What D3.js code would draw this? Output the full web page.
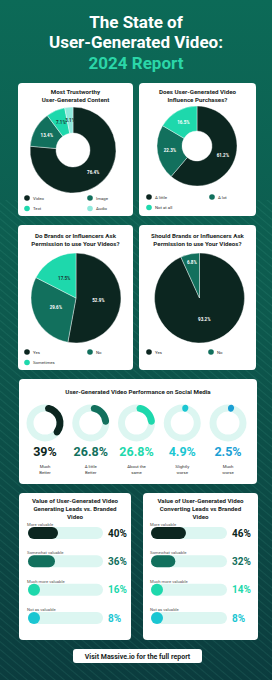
<!DOCTYPE html>
<html>
<head>
<meta charset="utf-8">
<script src="https://cdn.jsdelivr.net/npm/d3@7"></script>
<style>
  html, body { margin: 0; padding: 0; background: #0b5a4e; }
  svg { display: block; font-family: Roboto, "Noto Sans", sans-serif; }
</style>
</head>
<body>
<div id="chart"></div>
<script>
// ---- data ----
const trustLabels = ['Video', 'Image', 'Text', 'Audio'];
const trustValues = [76.4, 13.4, 7.1, 3.1];

const influenceLabels = ['A little', 'A lot', 'Not at all'];
const influenceValues = [61.2, 22.3, 16.5];

const askLabels = ['Yes', 'No', 'Sometimes'];
const askValues = [52.9, 29.6, 17.5];

const shouldLabels = ['Yes', 'No'];
const shouldValues = [93.2, 6.8];

const perfLabels = [['Much', 'Better'], ['A little', 'Better'], ['About the', 'same'], ['Slightly', 'worse'], ['Much', 'worse']];
const perfValues = [39, 26.8, 26.8, 4.9, 2.5];
const perfText = ['39%', '26.8%', '26.8%', '4.9%', '2.5%'];

const leadLabels = ['More valuable', 'Somewhat valuable', 'Much more valuable', 'Not as valuable'];
const leadValues = [40, 36, 16, 8];
const convLabels = ['More valuable', 'Somewhat valuable', 'Much more valuable', 'Not as valuable'];
const convValues = [46, 32, 14, 8];

const palette = ['#0c2620', '#12705d', '#1ed8ac', '#8fe9dc'];
const ringColors = ['#0c2620', '#12705d', '#1ed8ac', '#1bc6d2', '#1b9fd4'];

const W = 272, H = 680;

const svg = d3.select('#chart').append('svg')
    .attr('width', W)
    .attr('height', H);

// background
const defs = svg.append('defs');
const grad = defs.append('linearGradient')
    .attr('id', 'bg').attr('x1', 0).attr('y1', 0).attr('x2', 0).attr('y2', 1);
grad.append('stop').attr('offset', '0%').attr('stop-color', '#0c6a57');
grad.append('stop').attr('offset', '45%').attr('stop-color', '#0d5a4e');
grad.append('stop').attr('offset', '100%').attr('stop-color', '#0b3c3e');

const pat = defs.append('pattern')
    .attr('id', 'stripes')
    .attr('width', 6).attr('height', 6)
    .attr('patternUnits', 'userSpaceOnUse')
    .attr('patternTransform', 'rotate(-50)');
pat.append('line')
    .attr('x1', 0).attr('y1', 0).attr('x2', 0).attr('y2', 6)
    .attr('stroke', '#6fd6c0').attr('stroke-width', 0.8).attr('stroke-opacity', 0.25);

svg.append('rect').attr('width', W).attr('height', H).attr('fill', 'url(#bg)');
svg.append('rect').attr('y', 200).attr('width', W).attr('height', H - 200).attr('fill', 'url(#stripes)');

// title
const title = svg.append('g').attr('text-anchor', 'middle').attr('font-weight', 700).attr('font-size', 17);
title.append('text').attr('x', W / 2).attr('y', 28).attr('fill', '#fff').text('The State of');
title.append('text').attr('x', W / 2).attr('y', 48).attr('fill', '#fff').text('User-Generated Video:');
title.append('text').attr('x', W / 2).attr('y', 69).attr('fill', '#2bd6a8').text('2024 Report');

// helpers
function card(x, y, w, h) {
    const g = svg.append('g').attr('transform', `translate(${x},${y})`);
    g.append('rect').attr('width', w).attr('height', h).attr('rx', 4).attr('fill', '#fff');
    return g;
}

function cardTitle(g, lines, cx, y0, size, lh) {
    g.append('text')
        .attr('text-anchor', 'middle')
        .attr('font-size', size)
        .attr('font-weight', 700)
        .attr('fill', '#1b1f1e')
        .selectAll('tspan')
        .data(lines)
        .join('tspan')
        .attr('x', cx)
        .attr('y', (d, i) => y0 + i * lh)
        .text(d => d);
}

function legend(g, labels, x0, x1, y0, colors) {
    const item = g.selectAll('g.leg')
        .data(labels)
        .join('g')
        .attr('class', 'leg')
        .attr('transform', (d, i) => `translate(${i % 2 === 0 ? x0 : x1},${y0 + Math.floor(i / 2) * 10.5})`);
    item.append('circle').attr('r', 2.8).attr('fill', (d, i) => colors[i]);
    item.append('text')
        .attr('x', 6).attr('y', 1.6)
        .attr('font-size', 4.3)
        .attr('fill', '#333')
        .text(d => d);
}

function pieChart(g, values, cx, cy, rOut, rIn, colors, textColors) {
    const pie = d3.pie().sort(null).value(d => d);
    const arcs = pie(values);
    const arc = d3.arc().innerRadius(rIn).outerRadius(rOut);
    const pg = g.append('g').attr('transform', `translate(${cx},${cy})`);
    pg.selectAll('path')
        .data(arcs)
        .join('path')
        .attr('d', arc)
        .attr('fill', (d, i) => colors[i])
        .attr('stroke', '#fff')
        .attr('stroke-width', 0.4);
    pg.selectAll('text')
        .data(arcs)
        .join('text')
        .attr('transform', d => {
            let lr;
            if (rIn > 0) lr = (rIn + rOut) / 2;
            else lr = d.data < 10 ? rOut * 0.8 : rOut * 0.5;
            const a = (d.startAngle + d.endAngle) / 2;
            return `translate(${Math.sin(a) * lr},${-Math.cos(a) * lr + 1.5})`;
        })
        .attr('text-anchor', 'middle')
        .attr('font-size', 4.5)
        .attr('font-weight', 700)
        .attr('fill', (d, i) => textColors[i])
        .text(d => d.data + '%');
}

// card 1: most trustworthy
const c1 = card(18, 83, 115, 133);
cardTitle(c1, ['Most Trustworthy', 'User-Generated Content'], 57.5, 11, 6.2, 7.5);
pieChart(c1, trustValues, 55, 67, 43, 17, palette, ['#fff', '#fff', '#1b3a33', '#1b3a33']);
legend(c1, trustLabels, 9, 72, 115, palette);

// card 2: influence purchases
const c2 = card(139, 83, 117, 133);
cardTitle(c2, ['Does User-Generated Video', 'Influence Purchases?'], 58.5, 11, 6.2, 7.5);
pieChart(c2, influenceValues, 58, 63, 40, 15, palette, ['#fff', '#fff', '#fff']);
legend(c2, influenceLabels, 10, 73, 114, palette);

// card 3: do brands ask
const c3 = card(18, 225, 115, 145);
cardTitle(c3, ['Do Brands or Influencers Ask', 'Permission to use Your Videos?'], 57.5, 13, 6.2, 8);
pieChart(c3, askValues, 58, 73, 45, 0, palette, ['#fff', '#fff', '#1b3a33']);
legend(c3, askLabels, 9, 72, 127, palette);

// card 4: should brands ask
const c4 = card(139, 225, 117, 145);
cardTitle(c4, ['Should Brands or Influencers Ask', 'Permission to use Your Videos?'], 58.5, 13, 6.2, 8);
pieChart(c4, shouldValues, 60.5, 73, 45, 0, palette, ['#fff', '#fff']);
legend(c4, shouldLabels, 10, 72, 127, palette);

// card 5: performance rings
const c5 = card(19, 379, 238, 105);
cardTitle(c5, ['User-Generated Video Performance on Social Media'], 119, 15, 6.2, 8);
const ringX = d3.scalePoint().domain(d3.range(perfValues.length)).range([26, 209]);
const ringArc = d3.arc().innerRadius(11.5).outerRadius(18.5).cornerRadius(3.5).startAngle(0);
const ringTrack = d3.arc().innerRadius(11.5).outerRadius(18.5).startAngle(0).endAngle(2 * Math.PI);
const ang = d3.scaleLinear().domain([0, 100]).range([0, 2 * Math.PI]);
const rings = c5.selectAll('g.ring')
    .data(perfValues)
    .join('g')
    .attr('class', 'ring')
    .attr('transform', (d, i) => `translate(${ringX(i)},44)`);
rings.append('path').attr('d', ringTrack()).attr('fill', '#dcf6f1');
rings.append('path')
    .attr('d', d => ringArc({ endAngle: Math.max(ang(d), 0.4) }))
    .attr('fill', (d, i) => ringColors[i]);
rings.append('text')
    .attr('y', 77 - 44)
    .attr('text-anchor', 'middle')
    .attr('font-size', 12.5)
    .attr('font-weight', 700)
    .attr('fill', (d, i) => ringColors[i])
    .text((d, i) => perfText[i]);
rings.append('text')
    .attr('text-anchor', 'middle')
    .attr('font-size', 4.3)
    .attr('fill', '#333')
    .selectAll('tspan')
    .data((d, i) => perfLabels[i])
    .join('tspan')
    .attr('x', 0)
    .attr('y', (d, j) => 89 - 44 + j * 5.5)
    .text(d => d);

// bar cards
function barCard(x, y, w, lines, labels, values, trackX, trackW) {
    const g = card(x, y, w, 147);
    cardTitle(g, lines, w / 2, 10, 6.2, 8);
    const xs = d3.scaleLinear().domain([0, 100]).range([0, trackW]);
    const rowY = d3.scaleLinear().domain([0, 3]).range([40, 125]);
    const row = g.selectAll('g.row')
        .data(values)
        .join('g')
        .attr('class', 'row')
        .attr('transform', (d, i) => `translate(${trackX},${rowY(i)})`);
    row.append('text')
        .attr('x', -1).attr('y', -7)
        .attr('font-size', 4.2)
        .attr('fill', '#555')
        .text((d, i) => labels[i]);
    row.append('rect')
        .attr('y', -6).attr('width', trackW).attr('height', 12).attr('rx', 6)
        .attr('fill', '#dcf6f1');
    row.append('rect')
        .attr('y', -6).attr('width', d => Math.max(12, xs(d))).attr('height', 12).attr('rx', 6)
        .attr('fill', (d, i) => ringColors[i]);
    row.append('text')
        .attr('x', trackW + 5).attr('y', 3.5)
        .attr('font-size', 10)
        .attr('font-weight', 700)
        .attr('fill', (d, i) => ringColors[i])
        .text(d => d + '%');
}

barCard(19, 493, 112, ['Value of User-Generated Video', 'Generating Leads vs. Branded', 'Video'],
    leadLabels, leadValues, 9, 75);
barCard(143, 493, 115, ['Value of User-Generated Video', 'Converting Leads vs Branded', 'Video'],
    convLabels, convValues, 8, 76);

// footer button
const btn = svg.append('g').attr('transform', 'translate(73,649)');
btn.append('rect').attr('width', 129).attr('height', 14).attr('rx', 3).attr('fill', '#fff');
btn.append('text')
    .attr('x', 64.5).attr('y', 9.6)
    .attr('text-anchor', 'middle')
    .attr('font-size', 7)
    .attr('font-weight', 700)
    .attr('fill', '#1b1f1e')
    .text('Visit Massive.io for the full report');
</script>
</body>
</html>
